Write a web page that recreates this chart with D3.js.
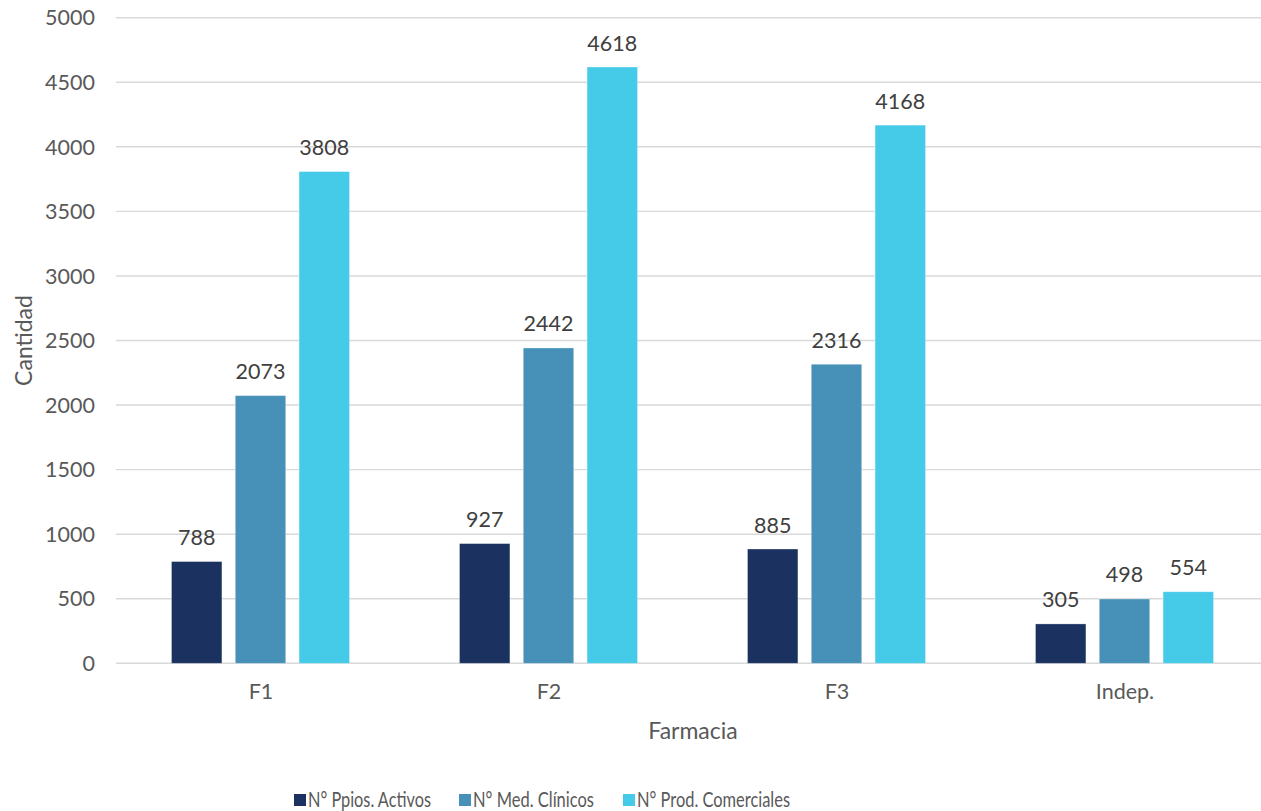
<!DOCTYPE html>
<html>
<head>
<meta charset="utf-8">
<script src="https://cdn.jsdelivr.net/npm/d3@7"></script>
<style>
  html, body { margin: 0; padding: 0; background: #fff; }
  svg { display: block; font-family: Lato, "Open Sans", sans-serif; }
</style>
</head>
<body>
<svg id="chart" width="1261" height="811"></svg>
<script>
// Pharmacy inventory counts by category
const categories = ["F1", "F2", "F3", "Indep."];
const seriesNames = ["N° Ppios. Activos", "N° Med. Clínicos", "N° Prod. Comerciales"];
const ppiosActivos = [788, 927, 885, 305];
const medClinicos = [2073, 2442, 2316, 498];
const prodComerciales = [3808, 4618, 4168, 554];
const yTicks = [0, 500, 1000, 1500, 2000, 2500, 3000, 3500, 4000, 4500, 5000];
const colors = ["#1b3260", "#4791b8", "#45cbe7"];

const seriesValues = [ppiosActivos, medClinicos, prodComerciales];

const svg = d3.select("#chart");
const plot = { left: 116, right: 1268, top: 17.7, bottom: 663.3 };

const x = d3.scaleBand().domain(categories).range([plot.left, plot.right]).padding(0);
const inner = d3.scaleBand().domain(seriesNames).range([0, 178]).paddingInner(0.21);
const y = d3.scaleLinear().domain([0, 5000]).range([plot.bottom, plot.top]);

// horizontal gridlines
svg.append("g").selectAll("line").data(yTicks).join("line")
  .attr("x1", plot.left).attr("x2", plot.right)
  .attr("y1", d => y(d)).attr("y2", d => y(d))
  .attr("stroke", "#d9d9d9").attr("stroke-width", 1.4);

// y tick labels
svg.append("g").selectAll("text").data(yTicks).join("text")
  .attr("x", 95).attr("y", d => y(d)).attr("dy", "0.36em")
  .attr("text-anchor", "end").attr("fill", "#595959").attr("font-size", 21.5)
  .text(d => d);

// bars and value labels
const groups = svg.append("g").selectAll("g").data(categories).join("g")
  .attr("transform", c => `translate(${x(c) + x.bandwidth() / 2 - 88.5},0)`);

groups.each(function(c, ci) {
  const g = d3.select(this);
  seriesNames.forEach((s, si) => {
    const v = seriesValues[si][ci];
    g.append("rect")
      .attr("x", inner(s)).attr("width", inner.bandwidth())
      .attr("y", y(v)).attr("height", y(0) - y(v))
      .attr("fill", colors[si])
      .attr("stroke", "#ffffff").attr("stroke-opacity", 0.35).attr("stroke-width", 0.8);
    g.append("text")
      .attr("x", inner(s) + inner.bandwidth() / 2).attr("y", y(v) - 16.5)
      .attr("text-anchor", "middle").attr("fill", "#404040").attr("font-size", 21.5)
      .text(v);
  });
});

// category labels
svg.append("g").selectAll("text").data(categories).join("text")
  .attr("x", c => x(c) + x.bandwidth() / 2 + 1).attr("y", 699)
  .attr("text-anchor", "middle").attr("fill", "#595959").attr("font-size", 21.5)
  .text(c => c);

// axis titles
svg.append("text")
  .attr("x", 693).attr("y", 739)
  .attr("text-anchor", "middle").attr("fill", "#595959").attr("font-size", 23)
  .text("Farmacia");

svg.append("text")
  .attr("transform", `translate(32,${(plot.top + plot.bottom) / 2}) rotate(-90)`)
  .attr("text-anchor", "middle").attr("fill", "#595959").attr("font-size", 23)
  .text("Cantidad");

// legend
const legendX = [294, 459, 623];
const legendTextWidth = [123, 121, 153];
const legend = svg.append("g").selectAll("g").data(seriesNames).join("g")
  .attr("transform", (d, i) => `translate(${legendX[i]},0)`);
legend.append("rect")
  .attr("x", 0).attr("y", 794).attr("width", 12).attr("height", 12)
  .attr("fill", (d, i) => colors[i]);
legend.append("text")
  .attr("x", 14).attr("y", 806.5)
  .attr("fill", "#595959").attr("font-size", 21.5)
  .attr("textLength", (d, i) => legendTextWidth[i])
  .attr("lengthAdjust", "spacingAndGlyphs")
  .text(d => d);
</script>
</body>
</html>
